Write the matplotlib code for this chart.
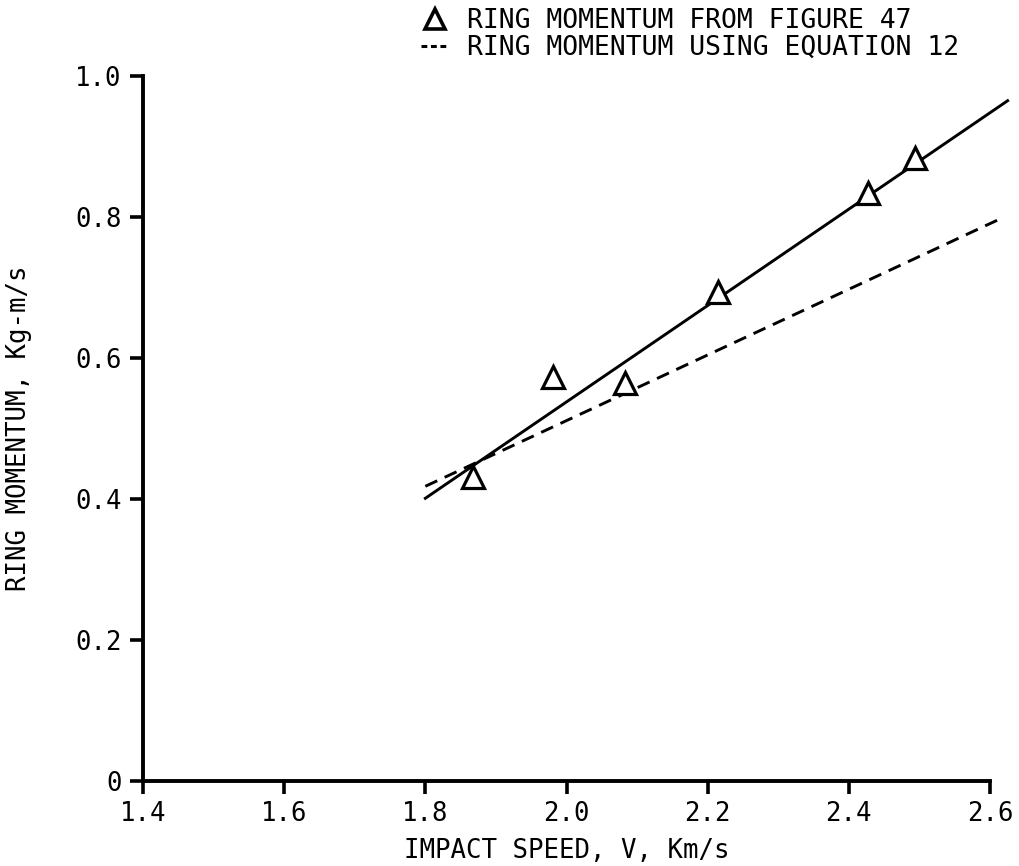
import matplotlib
matplotlib.use("Agg")
import matplotlib.pyplot as plt
from matplotlib.lines import Line2D

plt.rcParams['font.family'] = ['DejaVu Sans Mono', 'DejaVu Sans']

# Dữ liệu
speed_pts = [1.868, 1.981, 2.083, 2.215, 2.427, 2.494]
momentum_pts = [0.431, 0.573, 0.565, 0.694, 0.834, 0.884]

fit_speed = [1.8, 2.625]
fit_momentum = [0.401, 0.965]

eq_speed = [1.8, 2.62]
eq_momentum = [0.418, 0.80]

xticks = [1.4, 1.6, 1.8, 2.0, 2.2, 2.4, 2.6]
xtick_labels = ['1.4', '1.6', '1.8', '2.0', '2.2', '2.4', '2.6']
yticks = [0, 0.2, 0.4, 0.6, 0.8, 1.0]
ytick_labels = ['0', '0.2', '0.4', '0.6', '0.8', '1.0']

fig = plt.figure(figsize=(10.2, 8.66), dpi=100)
ax = fig.add_axes([0.1402, 0.0982, 0.8304, 0.814])

ax.plot(fit_speed, fit_momentum, c='black', lw=2.1, clip_on=False)
ax.plot(eq_speed, eq_momentum, c='black', lw=2.1, ls=(0, (4.5, 2.8)), clip_on=False)
ax.plot(speed_pts, momentum_pts, ls='none', marker='^', ms=15.5,
        mfc='white', mec='black', mew=2.3)

ax.set_xlim(1.4, 2.6)
ax.set_ylim(0, 1.0)
ax.set_xticks(xticks)
ax.set_xticklabels(xtick_labels)
ax.set_yticks(yticks)
ax.set_yticklabels(ytick_labels)
ax.tick_params(axis='both', direction='out', length=9.5, width=2.6,
               labelsize=18.5)
ax.tick_params(axis='y', pad=6)
ax.tick_params(axis='x', pad=5)

for side in ['top', 'right']:
    ax.spines[side].set_visible(False)
for side in ['left', 'bottom']:
    ax.spines[side].set_linewidth(2.8)

ax.set_xlabel('IMPACT SPEED, V, Km/s', fontsize=18.5, labelpad=8)
ax.set_ylabel('RING MOMENTUM, Kg-m/s', fontsize=18.5, labelpad=31)

# Chú thích ở phía trên
handles = [
    Line2D([], [], ls='none', marker='^', ms=14, mfc='white', mec='black', mew=2.6),
    Line2D([], [], c='black', lw=2.2, ls=(0, (1.9, 1.2))),
]
labels = ['RING MOMENTUM FROM FIGURE 47', 'RING MOMENTUM USING EQUATION 12']
fig.legend(handles, labels, loc='upper left', bbox_to_anchor=(0.405, 1.0),
           frameon=False, fontsize=19, handlelength=1.05, handletextpad=0.7,
           labelspacing=0.05, borderpad=0.3, borderaxespad=0)

fig.savefig('out.png', dpi=100, facecolor='white')
